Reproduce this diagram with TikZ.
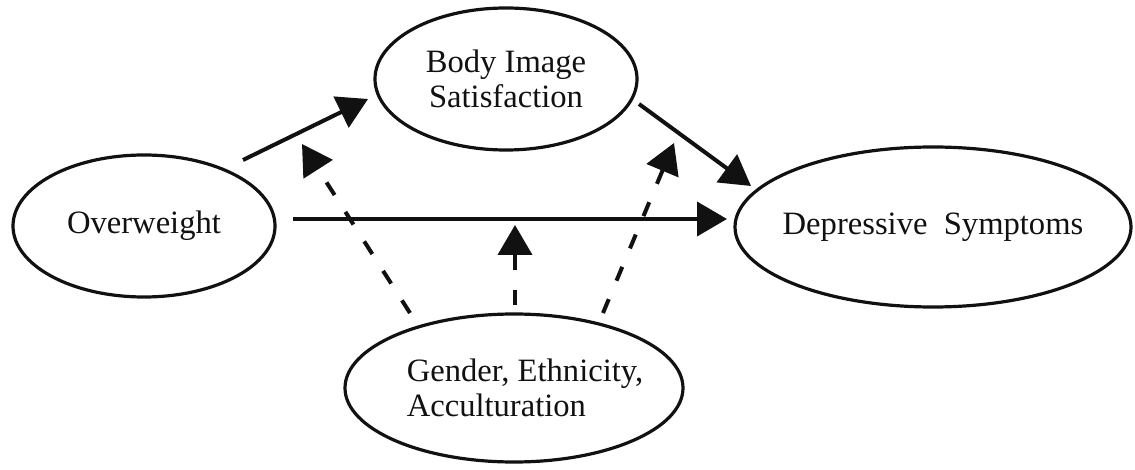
\documentclass[tikz,border=0pt]{standalone}
\usepackage{fontspec}
\setmainfont{Liberation Serif}
\usetikzlibrary{arrows.meta,shapes.geometric}
\definecolor{inkblack}{HTML}{111111}
\tikzset{
  oval/.style={ellipse, draw=inkblack, line width=1.6pt, inner sep=0pt, align=center, font=\fontsize{16.3}{17.2}\selectfont, text=inkblack},
  path/.style={-{Triangle[length=15pt,width=17pt]}, draw=inkblack, line width=2pt},
  mod/.style={path, dash pattern=on 7.5pt off 10pt},
}

\begin{document}
\begin{tikzpicture}[x=0.5pt,y=-0.5pt]
  \useasboundingbox (0,0) rectangle (1135,470);
  \node[oval, minimum width=131pt, minimum height=71pt] (ow) at (144,226) {Overweight};
  \node[oval, minimum width=131pt, minimum height=71pt] (bis) at (506,79) {Body Image\\Satisfaction};
  \node[oval, minimum width=198pt, minimum height=80pt, inner xsep=-15pt] (dep) at (933,227) {Depressive~ Symptoms};
  \node[oval, minimum width=169pt, minimum height=74pt, inner xsep=-15pt, align=left] (gea) at (514,388) {\hspace*{11pt}Gender, Ethnicity,\\\hspace*{11pt}Acculturation};
  % free ends of the paths
  \coordinate (owtop) at (243,160);
  \coordinate (bisin) at (368,99);
  \coordinate (bisout) at (639,104);
  \coordinate (depin) at (751,186);
  \coordinate (owright) at (293,219);
  \coordinate (depleft) at (727,219);
  \coordinate (geal) at (410,313);
  \coordinate (gealtip) at (302,144);
  \coordinate (geam) at (515,305);
  \coordinate (geamtip) at (515,225);
  \coordinate (gear) at (603,313);
  \coordinate (geartip) at (674,143);
  \draw[path] (owtop) -- (bisin);
  \draw[path] (bisout) -- (depin);
  \draw[path] (owright) -- (depleft);
  \draw[mod] (geal) -- (gealtip);
  \draw[mod] (geam) -- (geamtip);
  \draw[mod] (gear) -- (geartip);
\end{tikzpicture}
\end{document}
